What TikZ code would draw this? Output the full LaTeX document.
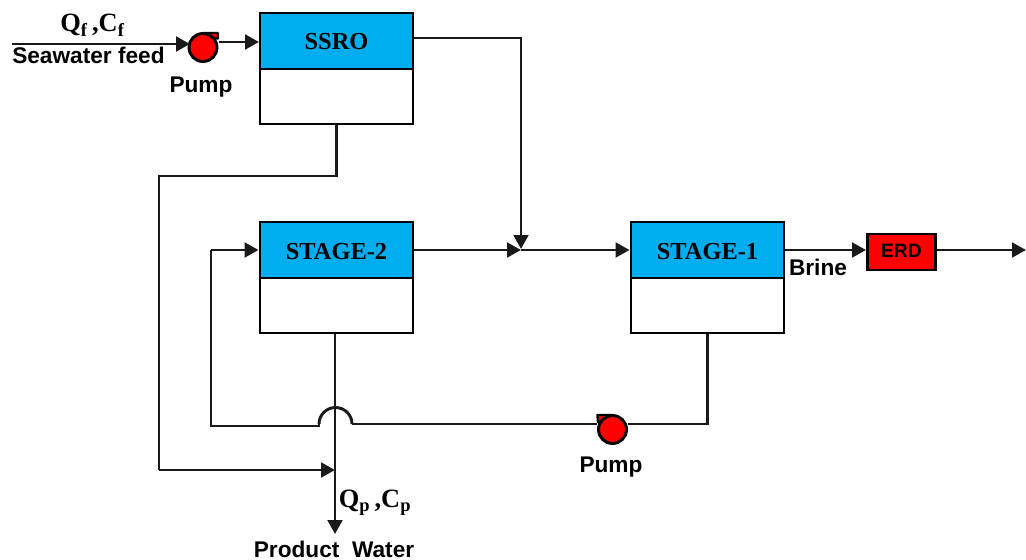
\documentclass[tikz,border=0pt]{standalone}
\usepackage{fontspec}
\setmainfont{Liberation Serif}
\setsansfont{Liberation Sans}
\usetikzlibrary{arrows.meta}
\definecolor{hblue}{RGB}{0,174,239}
\newcommand{\headtxt}[1]{\raisebox{-6.75pt}[0pt][0pt]{#1}}
\tikzset{
  x=0.75pt,y=-0.75pt,
  flow/.style={line width=2.2pt,draw=black!90},
  arr/.style={flow,-{Triangle[length=10.5pt,width=11pt]}},
  head/.style={draw=black,line width=2.2pt,fill=hblue,minimum width=114.75pt,minimum height=42pt,inner sep=0,font=\rmfamily\bfseries\fontsize{18.3}{18}\selectfont},
  body/.style={draw=black,line width=2.2pt,fill=white,minimum width=114.75pt,minimum height=41.25pt,inner sep=0},
  erdbox/.style={draw=black,line width=2.2pt,fill=red,minimum width=51pt,minimum height=27pt,inner sep=0,font=\sffamily\bfseries\fontsize{14.5}{14}\selectfont},
  pumpc/.style={circle,draw=black,line width=2.2pt,fill=red,minimum size=21pt,inner sep=0},
  ptail/.style={draw=black,line width=1.8pt,fill=red,line join=round},
  lab/.style={font=\sffamily\bfseries\fontsize{17}{17}\selectfont,inner sep=0},
  sym/.style={font=\rmfamily\bfseries\fontsize{19.8}{20}\selectfont,inner sep=0},
}
\begin{document}
\begin{tikzpicture}
\useasboundingbox (0,0) rectangle (1026,560);
% boxes
\node[head] (ssro) at (336.5,41) {\headtxt{SSRO}};
\node[body] (ssrob) at (336.5,96.5) {};
\node[head] (st2) at (336.5,250) {\headtxt{STAGE-2}};
\node[body] (st2b) at (336.5,305.5) {};
\node[head] (st1) at (707.5,250) {\headtxt{STAGE-1}};
\node[body] (st1b) at (707.5,305.5) {};
\node[erdbox] (erd) at (901.5,252) {\raisebox{-3.9pt}[0pt][0pt]{ERD}};
% pumps
\draw[ptail] (203,33) -- (218,33) -- (218,38.5) -- (212,38.5) -- cycle;
\node[pumpc] (p1) at (203,47.5) {};
\draw[ptail] (612,415) -- (597.5,415) -- (598,422) -- (604,421) -- cycle;
\node[pumpc] (p2) at (612.5,429.5) {};
\coordinate (feed) at (12,44);
\coordinate (p1in) at (190,44);
\coordinate (p1out) at (219,42);
\coordinate (ssroin) at (259,42);
\coordinate (jn) at (521,250);
\coordinate (tr) at (521,38);
\coordinate (hopR) at (352,424);
\coordinate (hopL) at (319,424);
\coordinate (mix) at (335,470);
\coordinate (out) at (335,534);
\coordinate (end) at (1026,250);
% connectors
\draw[arr] (feed) -- (p1in);
\draw[arr] (p1out) -- (ssroin);
\draw[arr] (ssro.east |- tr) -- (tr) -- ([yshift=0.75pt]jn);
\draw[arr] (st2.east) -- (jn);
\draw[arr] (jn) -- (st1.west);
\draw[arr] (st1.east) -- (erd.west |- st1.east);
\draw[arr] (erd.east |- st1.east) -- (end);
\draw[flow] (ssrob.south) -- (ssrob.south |- 0,176) -- (159,176) -- (159,470);
\draw[arr] (159,470) -- (mix);
\draw[arr] (st2b.south -| out) -- (out);
\draw[flow] (st1b.south) -- (st1b.south |- 0,424) -- (p2.east |- hopR);
\draw[flow] (p2.west |- hopR) -- (hopR);
\draw[flow] (hopR) arc[start angle=0,delta angle=-180,radius=16.5];
\draw[flow] (hopL) -- (319,426) -- (211,426) -- (211,250);
\draw[arr] (211,250) -- (st2.west);
% labels
\node[sym,anchor=base] (qf) at (92.5,32) {Q\textsubscript{f}\,,C\textsubscript{f}};
\node[lab,anchor=base] (sw) at (88.5,64) {Seawater feed};
\node[lab,anchor=base] (pl1) at (201,93) {Pump};
\node[lab,anchor=base] (pl2) at (611,472) {Pump};
\node[lab,anchor=base] (br) at (818,275) {Brine};
\node[sym,anchor=base] (qp) at (375,507) {Q\textsubscript{p}\,,C\textsubscript{p}};
\node[lab,anchor=base] (pw) at (334,557) {Product\ \ Water};
\end{tikzpicture}
\end{document}
